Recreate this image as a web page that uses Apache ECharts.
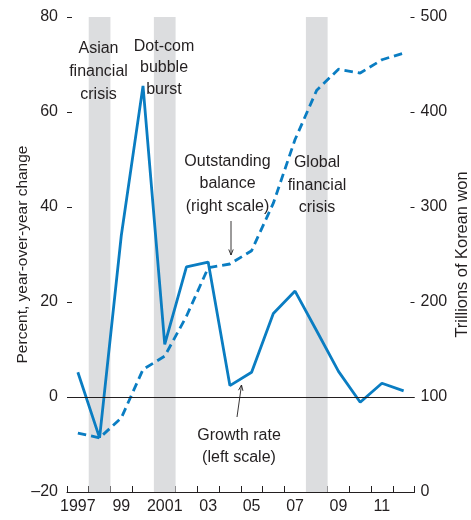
<!DOCTYPE html>
<html>
<head>
<meta charset="utf-8">
<script src="https://cdn.jsdelivr.net/npm/echarts@6/dist/echarts.min.js"></script>
<style>
html,body{margin:0;padding:0;background:#fff;}
#chart{width:471px;height:520px;}
</style>
</head>
<body>
<div id="chart"></div>
<script>
// ---- data ----
var years = ['1997','1998','1999','2000','2001','2002','2003','2004','2005','2006','2007','2008','2009','2010','2011','2012'];
var tickLabels = ['1997','','99','','2001','','03','','05','','07','','09','','11',''];
var growthRate = [5.2, -8.6, 34, 65.5, 11.1, 27.4, 28.4, 2.4, 5.2, 17.6, 22.3, 13.9, 5.4, -1.1, 2.9, 1.3];
var outstanding = [62, 57, 78, 129, 143, 185, 236, 240, 254, 304, 371, 423, 445, 441, 455, 462];
var crisisBand = ['-', 1, '-', '-', 1, '-', '-', '-', '-', '-', '-', 1, '-', '-', '-', '-'];
var leftTicks = {min: -20, max: 80, interval: 20};
var rightTicks = {min: 0, max: 500, interval: 100};

var FONT = '"Liberation Sans", Arial, sans-serif';
var TXT = '#231f20';
var BLUE = '#0a7dc2';
var FS = 16;

var chart = echarts.init(document.getElementById('chart'), null, {renderer: 'canvas'});

function txt(lines, cx, ys) {
  return lines.map(function (s, i) {
    return {
      type: 'text', silent: true, z: 50,
      style: {text: s, x: cx, y: ys[i], align: 'center', verticalAlign: 'middle',
        fontSize: FS, fontFamily: FONT, fill: TXT}
    };
  });
}
function arrow(x1, y1, x2, y2) {
  var ang = Math.atan2(y2 - y1, x2 - x1), L = 6, a = 0.38;
  return [
    {type: 'line', silent: true, z: 50, shape: {x1: x1, y1: y1, x2: x2, y2: y2}, style: {stroke: TXT, lineWidth: 0.9}},
    {type: 'polyline', silent: true, z: 50, shape: {points: [
      [x2 - L * Math.cos(ang - a), y2 - L * Math.sin(ang - a)], [x2, y2],
      [x2 - L * Math.cos(ang + a), y2 - L * Math.sin(ang + a)]]}, style: {stroke: TXT, lineWidth: 0.9, fill: null}}
  ];
}

var graphics = []
  .concat(txt(['Asian', 'financial', 'crisis'], 98.5, [49, 72, 95]))
  .concat(txt(['Dot-com', 'bubble', 'burst'], 164, [46.5, 68, 89.5]))
  .concat(txt(['Outstanding', 'balance', '(right scale)'], 227.5, [162, 184, 206.5]))
  .concat(txt(['Global', 'financial', 'crisis'], 317, [163, 186, 208]))
  .concat(txt(['Growth rate', '(left scale)'], 239, [436, 458]))
  .concat(arrow(231, 221, 231, 255))
  .concat(arrow(237, 417, 241.5, 385));

var option = {
  animation: false,
  backgroundColor: '#fff',
  textStyle: {fontFamily: FONT, color: TXT},
  grid: {left: 67, right: 56.5, top: 17, bottom: 28, containLabel: false, outerBoundsMode: 'none'},
  xAxis: {
    type: 'category', data: years, boundaryGap: true,
    axisLine: {show: true, onZero: false, lineStyle: {color: TXT, width: 1}},
    axisTick: {show: true, inside: true, length: 6, interval: 0, lineStyle: {color: TXT, width: 1}},
    axisLabel: {interval: 0, margin: 7, fontSize: FS, fontFamily: FONT, color: TXT,
      formatter: function (v, i) { return tickLabels[i]; }},
    splitLine: {show: false}
  },
  yAxis: [
    {
      type: 'value', position: 'left', min: leftTicks.min, max: leftTicks.max, interval: leftTicks.interval,
      name: 'Percent, year-over-year change', nameLocation: 'middle', nameGap: 36, nameRotate: 90,
      nameMoveOverlap: false,
      nameTextStyle: {fontSize: 15.5, fontFamily: FONT, color: TXT},
      axisLine: {show: false, onZero: false},
      axisTick: {show: true, inside: true, length: 5, lineStyle: {color: TXT, width: 1}},
      axisLabel: {margin: 9, fontSize: FS, fontFamily: FONT, color: TXT,
        formatter: function (v) { return v < 0 ? '\u2013' + Math.abs(v) : String(v); }},
      splitLine: {show: false}
    },
    {
      type: 'value', position: 'right', min: rightTicks.min, max: rightTicks.max, interval: rightTicks.interval,
      name: 'Trillions of Korean won', nameLocation: 'middle', nameGap: 40, nameRotate: 90,
      nameMoveOverlap: false,
      nameTextStyle: {fontSize: 16.4, fontFamily: FONT, color: TXT},
      axisLine: {show: false, onZero: false},
      axisTick: {show: true, inside: true, length: 4, lineStyle: {color: TXT, width: 1}},
      axisLabel: {margin: 6, fontSize: FS, fontFamily: FONT, color: TXT},
      splitLine: {show: false}
    },
    {type: 'value', min: 0, max: 0.996, show: false}
  ],
  series: [
    {
      name: 'Crisis', type: 'bar', yAxisIndex: 2, data: crisisBand, barWidth: '100%', barGap: '0%',
      itemStyle: {color: '#dcdddf'}, silent: true, z: 1
    },
    {
      name: 'Outstanding balance', type: 'line', yAxisIndex: 1, data: outstanding, symbol: 'none',
      lineStyle: {color: BLUE, width: 2.8, type: [8.5, 5]}, z: 3
    },
    {
      name: 'Growth rate', type: 'line', yAxisIndex: 0, data: growthRate, symbol: 'none',
      lineStyle: {color: BLUE, width: 2.8}, z: 4,
      markLine: {silent: true, symbol: 'none', label: {show: false},
        lineStyle: {color: TXT, width: 1, type: 'solid'}, data: [{yAxis: 0}]}
    }
  ],
  graphic: graphics
};
chart.setOption(option);
</script>
</body>
</html>
